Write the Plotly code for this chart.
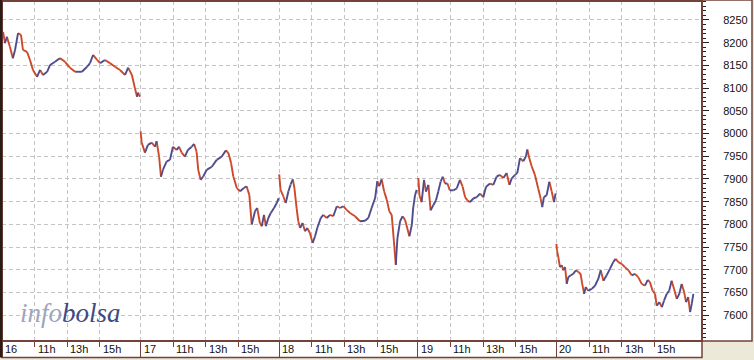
import plotly.graph_objects as go

# ---------------- data ----------------
days = ["16", "17", "18", "19", "20"]
hour_labels = ["11h", "13h", "15h"]
hour_marks = [11, 13, 15]
session_open = 9.0
session_len = 8.5

times16 = ["09:04", "09:11", "09:18", "09:29", "09:40", "09:48", "09:59", "10:10", "10:17", "10:32",
           "10:43", "10:54", "11:09", "11:20", "11:31", "11:46", "11:57", "12:15", "12:33", "12:52",
           "13:10", "13:29", "13:54", "14:13", "14:24", "14:35", "14:50", "15:01", "15:19", "15:37",
           "15:56", "16:14", "16:33", "16:44", "16:58", "17:09", "17:17", "17:20", "17:28"]
prices16 = [8224, 8199, 8213, 8191, 8166, 8184, 8221, 8217, 8184, 8180,
            8162, 8140, 8125, 8140, 8129, 8136, 8151, 8158, 8166, 8158,
            8145, 8136, 8136, 8147, 8155, 8173, 8162, 8155, 8162, 8155,
            8147, 8140, 8129, 8145, 8129, 8100, 8081, 8090, 8081]

times17 = ["09:00", "09:04", "09:16", "09:27", "09:41", "09:53", "09:59", "10:08", "10:15", "10:22",
           "10:36", "10:48", "10:59", "11:13", "11:21", "11:31", "11:43", "11:54", "12:08", "12:17",
           "12:26", "12:32", "12:41", "12:51", "13:03", "13:22", "13:40", "13:58", "14:14", "14:23",
           "14:33", "14:41", "14:54", "15:06", "15:20", "15:30", "15:40", "15:49", "16:01", "16:09",
           "16:19", "16:26", "16:34", "16:41", "16:50", "16:59", "17:11", "17:21", "17:28"]
prices17 = [8005, 7980, 7958, 7975, 7980, 7971, 7983, 7949, 7905, 7920,
            7939, 7942, 7971, 7964, 7971, 7958, 7949, 7964, 7971, 7977,
            7960, 7920, 7898, 7906, 7920, 7927, 7942, 7949, 7963, 7957,
            7935, 7906, 7880, 7873, 7880, 7884, 7865, 7800, 7829, 7836,
            7803, 7796, 7821, 7796, 7814, 7825, 7836, 7847, 7858]

times18 = ["09:00", "09:05", "09:15", "09:24", "09:34", "09:42", "09:50", "09:56", "10:04", "10:10",
           "10:17", "10:26", "10:35", "10:43", "10:53", "11:03", "11:12", "11:20", "11:33", "11:42",
           "11:55", "12:07", "12:19", "12:32", "12:44", "12:56", "13:08", "13:21", "13:39", "13:57",
           "14:16", "14:28", "14:40", "14:53", "15:01", "15:08", "15:17", "15:26", "15:36", "15:45",
           "15:54", "16:02", "16:09", "16:15", "16:25", "16:34", "16:43", "16:51", "16:59", "17:08",
           "17:13", "17:20", "17:26"]
prices18 = [7910, 7876, 7862, 7847, 7873, 7888, 7899, 7880, 7836, 7807,
            7792, 7803, 7785, 7792, 7781, 7759, 7774, 7792, 7814, 7821,
            7814, 7821, 7818, 7840, 7836, 7840, 7832, 7825, 7818, 7807,
            7808, 7814, 7836, 7858, 7895, 7884, 7899, 7873, 7854, 7829,
            7821, 7763, 7711, 7770, 7807, 7818, 7810, 7792, 7774, 7799,
            7836, 7865, 7876]

times19 = ["09:02", "09:06", "09:14", "09:23", "09:30", "09:39", "09:47", "09:57", "10:07", "10:15",
           "10:24", "10:32", "10:40", "10:49", "10:58", "11:11", "11:23", "11:35", "11:45", "11:54",
           "12:02", "12:12", "12:24", "12:37", "12:49", "13:01", "13:11", "13:26", "13:38", "13:50",
           "14:02", "14:15", "14:27", "14:37", "14:46", "14:58", "15:06", "15:16", "15:28", "15:38",
           "15:43", "15:50", "15:59", "16:11", "16:23", "16:32", "16:38", "16:44", "16:54", "17:04",
           "17:13", "17:21", "17:27"]
prices19 = [7902, 7864, 7849, 7898, 7872, 7887, 7831, 7842, 7853, 7872,
            7894, 7905, 7890, 7890, 7875, 7875, 7879, 7898, 7883, 7860,
            7853, 7849, 7857, 7860, 7868, 7860, 7883, 7890, 7887, 7905,
            7909, 7902, 7913, 7887, 7902, 7909, 7913, 7946, 7939, 7950,
            7965, 7946, 7928, 7909, 7879, 7857, 7838, 7860, 7864, 7894,
            7872, 7849, 7868]

times20 = ["09:00", "09:02", "09:07", "09:13", "09:20", "09:25", "09:32", "09:38", "09:44", "09:53",
           "10:02", "10:12", "10:21", "10:29", "10:35", "10:42", "10:48", "10:57", "11:10", "11:22",
           "11:34", "11:43", "11:53", "12:05", "12:17", "12:29", "12:38", "12:48", "13:00", "13:12",
           "13:25", "13:37", "13:49", "14:01", "14:14", "14:26", "14:36", "14:44", "14:54", "15:03",
           "15:09", "15:19", "15:28", "15:36", "15:46", "15:55", "16:04", "16:13", "16:23", "16:32",
           "16:41", "16:50", "16:57", "17:05", "17:12", "17:18", "17:24"]
prices20 = [7757, 7743, 7728, 7706, 7710, 7699, 7706, 7669, 7684, 7688,
            7691, 7699, 7695, 7691, 7669, 7647, 7662, 7654, 7658, 7665,
            7680, 7699, 7676, 7688, 7702, 7717, 7724, 7717, 7713, 7706,
            7699, 7688, 7691, 7684, 7669, 7665, 7678, 7673, 7654, 7647,
            7621, 7629, 7618, 7632, 7647, 7654, 7676, 7658, 7636, 7647,
            7669, 7651, 7629, 7640, 7607, 7625, 7647]

all_times = [times16, times17, times18, times19, times20]
all_prices = [prices16, prices17, prices18, prices19, prices20]

y_ticks = [7600, 7650, 7700, 7750, 7800, 7850, 7900, 7950, 8000, 8050, 8100, 8150, 8200, 8250]

# ---------------- styling ----------------
UP = "#4f4c8e"
DOWN = "#cc4a2a"
BORDER = "#73423a"
GRID = "#c4c4c4"
BEIGE = "#ece9d8"
W, H = 754, 360
ML, MR, MT, MB = 2, 52, 1, 19


def to_x(day_idx, hhmm):
    h, m = hhmm.split(":")
    return day_idx * session_len + (int(h) + int(m) / 60.0 - session_open)


up_x, up_y, dn_x, dn_y = [], [], [], []
for d, (ts, ps) in enumerate(zip(all_times, all_prices)):
    xs = [to_x(d, t) for t in ts]
    for i in range(len(ps) - 1):
        if ps[i + 1] >= ps[i]:
            up_x += [xs[i], xs[i + 1], None]
            up_y += [ps[i], ps[i + 1], None]
        else:
            dn_x += [xs[i], xs[i + 1], None]
            dn_y += [ps[i], ps[i + 1], None]

fig = go.Figure()
fig.add_trace(go.Scatter(x=dn_x, y=dn_y, mode="lines", line=dict(color=DOWN, width=1.9),
                         hoverinfo="skip", showlegend=False))
fig.add_trace(go.Scatter(x=up_x, y=up_y, mode="lines", line=dict(color=UP, width=1.9),
                         hoverinfo="skip", showlegend=False))

day_starts = [d * session_len for d in range(len(days))]
hour_pos = [d * session_len + (hm - session_open) for d in range(len(days)) for hm in hour_marks]

plot_w = W - ML - MR
x_max = plot_w / 16.306

fig.update_layout(
    width=W, height=H,
    margin=dict(l=ML, r=MR, t=MT, b=MB, pad=0),
    paper_bgcolor=BEIGE,
    plot_bgcolor="white",
    showlegend=False,
    xaxis=dict(
        range=[0, x_max], showticklabels=False, zeroline=False,
        tickmode="array", tickvals=day_starts, ticks="outside", ticklen=16,
        tickcolor=BORDER, tickwidth=1,
        showgrid=True, gridcolor=GRID, griddash="4px,3px", gridwidth=1,
        minor=dict(tickmode="array", tickvals=hour_pos, ticks="outside", ticklen=5,
                   tickcolor=BORDER, tickwidth=1, showgrid=True, gridcolor=GRID,
                   griddash="4px,3px", gridwidth=1),
        showline=False,
    ),
    yaxis=dict(
        range=[7543.3, 8291.8], side="right", tickmode="array", tickvals=y_ticks,
        ticks="outside", ticklen=6, tickcolor="#222222", tickwidth=1,
        ticklabelstandoff=12,
        tickfont=dict(family="Liberation Sans, Arial, sans-serif", size=11, color="#111111"),
        showgrid=True, gridcolor=GRID, griddash="4px,3px", gridwidth=1, zeroline=False,
        minor=dict(dtick=10, tick0=7600, ticks="outside", ticklen=3, tickcolor="#222222",
                   showgrid=False),
        showline=False,
    ),
)

# white strips (x-axis strip and y-axis strip)
x_strip_h = 16.5 / (H - MT - MB)
fig.add_shape(type="rect", xref="paper", yref="paper", x0=0, x1=1, y0=-x_strip_h, y1=0,
              fillcolor="white", line=dict(width=0), layer="below")
y_strip_w = 50.0 / plot_w
fig.add_shape(type="rect", xref="paper", yref="paper", x0=1, x1=1 + y_strip_w, y0=0, y1=1.003,
              fillcolor="white", line=dict(width=0), layer="below")

# borders
fig.add_shape(type="rect", xref="paper", yref="paper", x0=0, x1=1, y0=-x_strip_h, y1=0,
              fillcolor="rgba(0,0,0,0)", line=dict(color=BORDER, width=1.5), layer="above")
fig.add_shape(type="rect", xref="paper", yref="paper", x0=1, x1=1 + y_strip_w, y0=0, y1=1.003,
              fillcolor="rgba(0,0,0,0)", line=dict(color=BORDER, width=1.5), layer="above")
fig.add_shape(type="rect", xref="paper", yref="paper", x0=0, x1=1, y0=0, y1=1,
              fillcolor="rgba(0,0,0,0)", line=dict(color=BORDER, width=2), layer="above")
fig.add_shape(type="line", xref="paper", yref="paper", x0=-0.0015, x1=-0.0015, y0=-x_strip_h, y1=1.003,
              line=dict(color="#2a1a18", width=2.5), layer="above")

# x-axis labels (left-aligned right of each tick)
lab_font = dict(family="Liberation Sans, Arial, sans-serif", size=11, color="#111111")
for d, lab in enumerate(days):
    fig.add_annotation(x=day_starts[d], y=-x_strip_h / 2, xref="x", yref="paper", text=lab,
                       showarrow=False, xanchor="left", yanchor="middle", xshift=1,
                       font=lab_font)
    for hm, hl in zip(hour_marks, hour_labels):
        fig.add_annotation(x=d * session_len + (hm - session_open), y=-x_strip_h / 2,
                           xref="x", yref="paper", text=hl, showarrow=False,
                           xanchor="left", yanchor="middle", xshift=1, font=lab_font)

# watermark
fig.add_annotation(x=16 / plot_w, y=(341 - 313) / 340, xref="paper", yref="paper",
                   text="<i><span style='color:#9ea5bf'>info</span><span style='color:#3f4a80'>bolsa</span></i>",
                   showarrow=False, xanchor="left", yanchor="middle",
                   font=dict(family="Liberation Serif, DejaVu Serif, serif", size=27))

fig.write_html("out.html")
